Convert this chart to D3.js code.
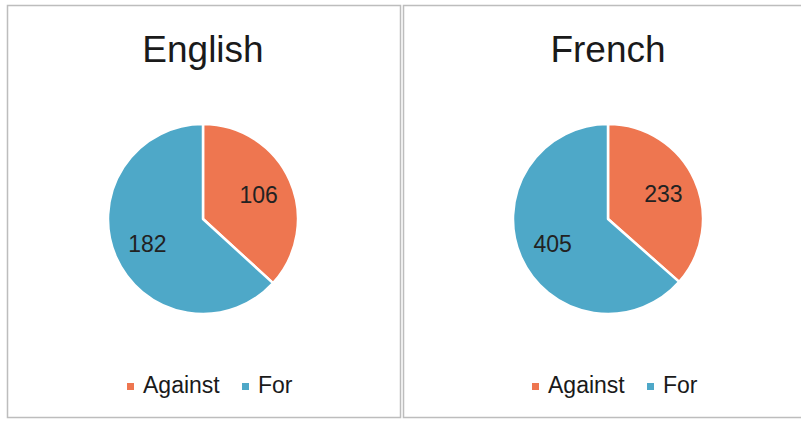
<!DOCTYPE html>
<html>
<head>
<meta charset="utf-8">
<script src="https://cdn.jsdelivr.net/npm/d3@7"></script>
<style>
  body { margin: 0; background: #fff; }
  svg { display: block; font-family: Arial, "Liberation Sans", sans-serif; }
</style>
</head>
<body>
<script>
var width = 801, height = 421;

// chart data
var languages = ["English", "French"];
var categories = ["Against", "For"];
var englishValues = [106, 182];
var frenchValues = [233, 405];

var seriesValues = [englishValues, frenchValues];
var color = d3.scaleOrdinal().domain(categories).range(["#ee7650", "#4ea8c8"]);

var svg = d3.select("body").append("svg")
  .attr("width", width)
  .attr("height", height);

// panel frames, like two pasted chart boxes
var panels = [{x: 7, w: 393}, {x: 403, w: 400}];
svg.selectAll(".frame")
  .data(panels)
  .enter().append("rect")
  .attr("class", "frame")
  .attr("x", function (d) { return d.x + 0.5; })
  .attr("y", 5.5)
  .attr("width", function (d) { return d.w; })
  .attr("height", 412)
  .attr("fill", "none")
  .attr("stroke", "#bdbdbd")
  .attr("stroke-width", 1.5);

var centers = [203, 608];
var radius = 95;

var pie = d3.pie().sort(null).value(function (d) { return d; });
var arc = d3.arc().innerRadius(0).outerRadius(radius);
var labelArc = d3.arc().innerRadius(radius * 0.64).outerRadius(radius * 0.64);

languages.forEach(function (lang, i) {
  var cx = centers[i];
  var g = svg.append("g").attr("transform", "translate(" + cx + ",219)");

  svg.append("text")
    .attr("x", cx)
    .attr("y", 62)
    .attr("text-anchor", "middle")
    .attr("font-size", "37px")
    .attr("fill", "#1a1a1a")
    .text(lang);

  var arcs = pie(seriesValues[i]);

  g.selectAll("path")
    .data(arcs)
    .enter().append("path")
    .attr("d", arc)
    .attr("fill", function (d, j) { return color(categories[j]); })
    .attr("stroke", "#fff")
    .attr("stroke-width", 2.5)
    .attr("stroke-linejoin", "round");

  g.selectAll(".lbl")
    .data(arcs)
    .enter().append("text")
    .attr("class", "lbl")
    .attr("transform", function (d) { return "translate(" + labelArc.centroid(d) + ")"; })
    .attr("text-anchor", "middle")
    .attr("dy", "0.35em")
    .attr("font-size", "23px")
    .attr("fill", "#222")
    .text(function (d) { return d.data; });

  // legend
  var lg = svg.append("g").attr("transform", "translate(" + (cx - 76) + ",393)");
  var offsets = [0, 115];
  categories.forEach(function (c, j) {
    lg.append("rect")
      .attr("x", offsets[j])
      .attr("y", -10)
      .attr("width", 7)
      .attr("height", 7)
      .attr("fill", color(c));
    lg.append("text")
      .attr("x", offsets[j] + 16)
      .attr("y", 0)
      .attr("font-size", "23px")
      .attr("fill", "#1a1a1a")
      .text(c);
  });
});
</script>
</body>
</html>
